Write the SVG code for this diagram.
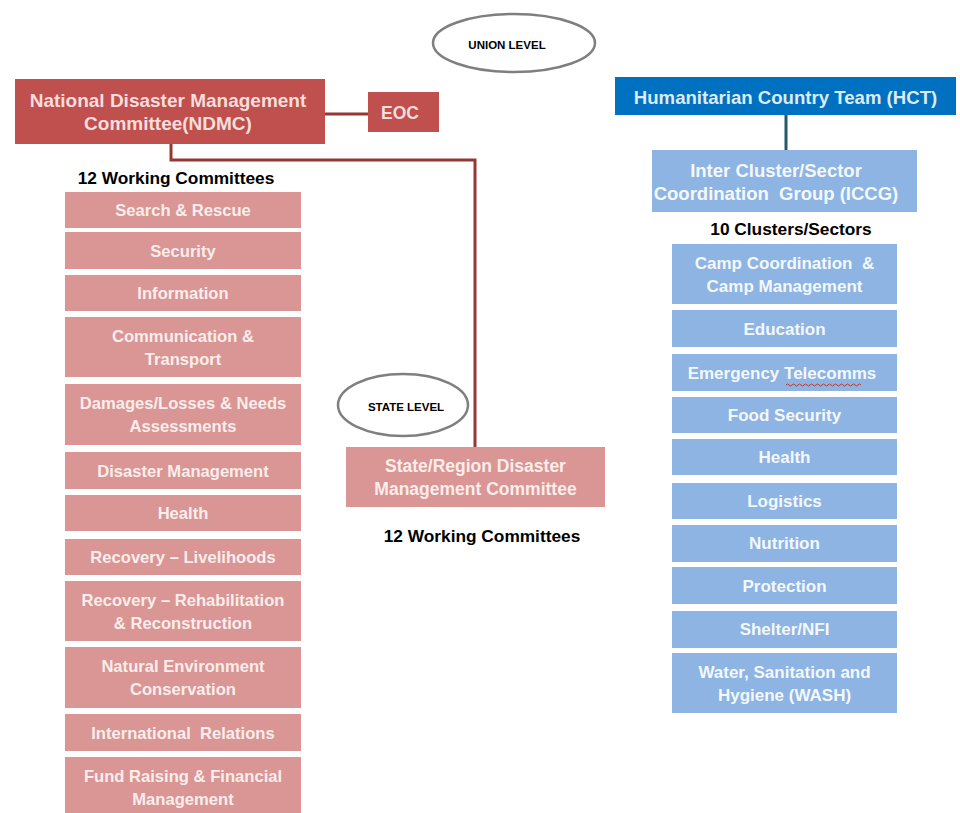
<svg xmlns="http://www.w3.org/2000/svg" width="960" height="813" viewBox="0 0 960 813">
<style>
text{font-family:"Liberation Sans",Arial,sans-serif;font-weight:bold;text-anchor:middle;dominant-baseline:central}
.dark{fill:#C0504D}
.pink{fill:#D99694}
.hct{fill:#0070C0}
.lb{fill:#8DB4E2}
.t{fill:#FBEDEC;font-size:16.6px}
.tw{fill:#F4F8FD;font-size:17px}
.big{fill:#F6DEDD;font-size:19px}
.head{fill:#000;font-size:17.3px}
.lvl{fill:#000;font-size:11.5px}
.ell{fill:#fff;stroke:#7F7F7F;stroke-width:2.5}
.cr{fill:none;stroke:#953735;stroke-width:3}
.cb{fill:none;stroke:#215968;stroke-width:3}
</style>
<rect width="960" height="813" fill="#fff"/>
<g id="connectors">
<line class="cr" x1="325" y1="114" x2="368" y2="114"/>
<polyline class="cr" points="171,144 171,160 475,160 475,447"/>
<line class="cb" x1="786" y1="115" x2="786" y2="150"/>
</g>
<g id="union-level"><ellipse class="ell" cx="514" cy="43" rx="81" ry="29"/><text class="lvl" x="507" y="45">UNION LEVEL</text></g>
<g id="ndmc"><rect class="dark" x="15" y="79" width="310" height="65"/><text class="big" x="168" y="100">National Disaster Management</text><text class="big" x="168" y="123">Committee(NDMC)</text></g>
<g id="eoc"><rect class="dark" x="368" y="92" width="71" height="40"/><text class="big" x="400" y="113" style="font-size:17.5px">EOC</text></g>
<text id="wc-label-1" class="head" x="176" y="178">12 Working Committees</text>
<g id="search-rescue"><rect class="pink" x="65" y="192" width="236" height="36"/><text class="t" x="183" y="210">Search &amp; Rescue</text></g>
<g id="security"><rect class="pink" x="65" y="232" width="236" height="37"/><text class="t" x="183" y="251">Security</text></g>
<g id="information"><rect class="pink" x="65" y="275" width="236" height="36"/><text class="t" x="183" y="293">Information</text></g>
<g id="communication"><rect class="pink" x="65" y="317" width="236" height="60"/><text class="t" x="183" y="336">Communication &amp;</text><text class="t" x="183" y="359">Transport</text></g>
<g id="damages"><rect class="pink" x="65" y="384" width="236" height="61"/><text class="t" x="183" y="403">Damages/Losses &amp; Needs</text><text class="t" x="183" y="426">Assessments</text></g>
<g id="disaster-mgmt"><rect class="pink" x="65" y="452" width="236" height="37"/><text class="t" x="183" y="471">Disaster Management</text></g>
<g id="health-l"><rect class="pink" x="65" y="495" width="236" height="36"/><text class="t" x="183" y="513">Health</text></g>
<g id="recovery-liv"><rect class="pink" x="65" y="539" width="236" height="36"/><text class="t" x="183" y="557">Recovery – Livelihoods</text></g>
<g id="recovery-rehab"><rect class="pink" x="65" y="581" width="236" height="60"/><text class="t" x="183" y="600">Recovery – Rehabilitation</text><text class="t" x="183" y="623">&amp; Reconstruction</text></g>
<g id="natural-env"><rect class="pink" x="65" y="647" width="236" height="61"/><text class="t" x="183" y="666">Natural Environment</text><text class="t" x="183" y="689">Conservation</text></g>
<g id="international"><rect class="pink" x="65" y="714" width="236" height="37"/><text class="t" x="183" y="733" xml:space="preserve">International  Relations</text></g>
<g id="fund-raising"><rect class="pink" x="65" y="757" width="236" height="60"/><text class="t" x="183" y="776">Fund Raising &amp; Financial</text><text class="t" x="183" y="799">Management</text></g>
<g id="state-level"><ellipse class="ell" cx="403" cy="405" rx="65" ry="31"/><text class="lvl" x="406" y="407">STATE LEVEL</text></g>
<g id="state-committee"><rect class="pink" x="346" y="447" width="259" height="60"/><text class="t" x="475.5" y="466" style="font-size:17.5px">State/Region Disaster</text><text class="t" x="475.5" y="489" style="font-size:17.5px">Management Committee</text></g>
<text id="wc-label-2" class="head" x="482" y="536">12 Working Committees</text>
<g id="hct"><rect class="hct" x="615" y="77" width="341" height="38"/><text class="big" x="785.5" y="97" style="fill:#DCEBF8;font-size:18.6px">Humanitarian Country Team (HCT)</text></g>
<g id="iccg"><rect class="lb" x="652" y="150" width="265" height="62"/><text class="tw" x="776" y="170" style="font-size:18.5px">Inter Cluster/Sector</text><text class="tw" x="776" y="193" style="font-size:18.5px" xml:space="preserve">Coordination  Group (ICCG)</text></g>
<text id="clusters-label" class="head" x="791" y="229">10 Clusters/Sectors</text>
<g id="cccm"><rect class="lb" x="672" y="244" width="225" height="60"/><text class="tw" x="784.5" y="263" xml:space="preserve">Camp Coordination  &amp;</text><text class="tw" x="784.5" y="286">Camp Management</text></g>
<g id="education"><rect class="lb" x="672" y="310" width="225" height="37"/><text class="tw" x="784.5" y="329">Education</text></g>
<g id="telecomms"><rect class="lb" x="672" y="354" width="225" height="37"/><text class="tw" x="782" y="373">Emergency Telecomms</text><path d="M786 385 q1.5 -2 3 0 t3 0 t3 0 t3 0 t3 0 t3 0 t3 0 t3 0 t3 0 t3 0 t3 0 t3 0 t3 0 t3 0 t3 0 t3 0 t3 0 t3 0 t3 0 t3 0 t3 0 t3 0 t3 0 t3 0 t3 0" fill="none" stroke="#C0392B" stroke-width="1"/></g>
<g id="food-security"><rect class="lb" x="672" y="397" width="225" height="36"/><text class="tw" x="784.5" y="415">Food Security</text></g>
<g id="health-r"><rect class="lb" x="672" y="439" width="225" height="36"/><text class="tw" x="784.5" y="457">Health</text></g>
<g id="logistics"><rect class="lb" x="672" y="483" width="225" height="36"/><text class="tw" x="784.5" y="501">Logistics</text></g>
<g id="nutrition"><rect class="lb" x="672" y="525" width="225" height="37"/><text class="tw" x="784.5" y="543">Nutrition</text></g>
<g id="protection"><rect class="lb" x="672" y="567" width="225" height="37"/><text class="tw" x="784.5" y="586">Protection</text></g>
<g id="shelter"><rect class="lb" x="672" y="611" width="225" height="37"/><text class="tw" x="784.5" y="629">Shelter/NFI</text></g>
<g id="wash"><rect class="lb" x="672" y="653" width="225" height="60"/><text class="tw" x="784.5" y="672">Water, Sanitation and</text><text class="tw" x="784.5" y="695">Hygiene (WASH)</text></g>
</svg>
